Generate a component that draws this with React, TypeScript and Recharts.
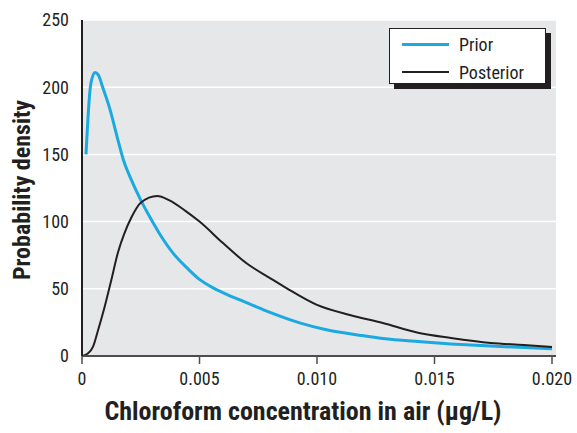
import React from "react"
import { LineChart, Line, XAxis, YAxis, CartesianGrid, Label } from "recharts"

// Prior density
const priorX = [
  0.00017, 0.00037, 0.00055, 0.0007, 0.00088, 0.0012, 0.00148, 0.00176, 0.0021,
  0.0025, 0.0029, 0.0033, 0.0039, 0.0045, 0.005, 0.0056, 0.0062, 0.0071, 0.008,
  0.0093, 0.0104, 0.0118, 0.0128, 0.0143, 0.0157, 0.0174, 0.02,
]
const priorY = [
  150, 202, 211, 209, 200, 183, 164, 146, 131, 116, 103, 91, 76, 65, 57, 50.5,
  45.5, 39, 32.5, 24.5, 19.5, 15.5, 13, 10.7, 9, 7.4, 5.4,
]

// Posterior density
const posteriorX = [
  0, 0.00026, 0.00047, 0.00068, 0.00097, 0.00124, 0.00153, 0.0018, 0.0021, 0.0025,
  0.0032, 0.0037, 0.0044, 0.005, 0.006, 0.007, 0.008, 0.0087, 0.01, 0.0114,
  0.0128, 0.0143, 0.0157, 0.0174, 0.0188, 0.02,
]
const posteriorY = [
  0, 2, 7, 19, 37, 56, 77, 91, 103, 114, 119, 116, 108, 100, 84, 69, 58, 50.5, 38,
  30.5, 24.5, 17.3, 13.4, 9.7, 8.2, 6.7,
]

const xTicks = [0, 0.005, 0.01, 0.015, 0.02]
const yTicks = [0, 50, 100, 150, 200, 250]

const font = "'Liberation Sans Narrow', 'Roboto Condensed', 'DejaVu Sans Condensed', sans-serif"
const ink = "#231f20"
const blue = "#1ba9e1"

const priorData = priorX.map((x, i) => ({ x, y: priorY[i] }))
const posteriorData = posteriorX.map((x, i) => ({ x, y: posteriorY[i] }))

const legendItems = [
  { name: "Prior", color: blue, width: 3 },
  { name: "Posterior", color: ink, width: 2 },
]

// legend drawn over the plot, box with a hard drop shadow
function LegendBox() {
  return (
    <div
      style={{
        position: "absolute",
        left: 389,
        top: 28,
        background: "#fff",
        border: `1px solid ${ink}`,
        boxShadow: `5px 5px 0 ${ink}`,
        width: 157,
        height: 56,
        boxSizing: "border-box",
        paddingTop: 1,
        fontFamily: font,
        fontSize: 18,
        color: ink,
      }}
    >
      {legendItems.map((it) => (
        <div key={it.name} style={{ display: "flex", alignItems: "center", height: 28 }}>
          <span
            style={{
              display: "inline-block",
              width: 47,
              marginLeft: 12,
              marginRight: 10,
              borderTop: `${it.width}px solid ${it.color}`,
            }}
          />
          <span>{it.name}</span>
        </div>
      ))}
    </div>
  )
}

export default function App() {
  return (
    <div style={{ position: "absolute", left: 0, top: 0, width: 577, height: 433 }}>
      <LineChart width={577} height={433} margin={{ top: 20, right: 21, bottom: 0, left: 0 }}>
        <CartesianGrid fill="#e6e7e8" stroke="#ffffff" strokeWidth={1.5} vertical={false} />
        <XAxis
          type="number"
          dataKey="x"
          domain={[0, 0.02017]}
          ticks={xTicks}
          allowDataOverflow
          height={77}
          tickSize={8}
          tickMargin={8}
          tickFormatter={(v: number) => (v === 0 ? "0" : v.toFixed(3))}
          tick={{ fontSize: 18, fill: ink, fontFamily: font }}
          axisLine={{ stroke: "#4d4d4f", strokeWidth: 2 }}
          tickLine={{ stroke: "#4d4d4f", strokeWidth: 1.5 }}
        >
          <Label
            content={() => (
              <text
                x={303}
                y={420}
                textAnchor="middle"
                fontFamily={font}
                fontWeight="bold"
                fontSize={26}
                fill={ink}
              >
                Chloroform concentration in air (μg/L)
              </text>
            )}
          />
        </XAxis>
        <YAxis
          type="number"
          domain={[0, 250]}
          ticks={yTicks}
          width={82}
          tickLine={false}
          tickMargin={7}
          tick={{ fontSize: 18, fill: ink, fontFamily: font }}
          axisLine={{ stroke: ink, strokeWidth: 2 }}
        >
          <Label
            content={() => (
              <text
                x={30}
                y={190}
                transform="rotate(-90 30 190)"
                textAnchor="middle"
                fontFamily={font}
                fontWeight="bold"
                fontSize={24}
                fill={ink}
              >
                Probability density
              </text>
            )}
          />
        </YAxis>
        <Line
          data={priorData}
          dataKey="y"
          name="Prior"
          type="monotone"
          stroke={blue}
          strokeWidth={3}
          dot={false}
          isAnimationActive={false}
        />
        <Line
          data={posteriorData}
          dataKey="y"
          name="Posterior"
          type="monotone"
          stroke={ink}
          strokeWidth={2}
          dot={false}
          isAnimationActive={false}
        />
      </LineChart>
      <LegendBox />
    </div>
  )
}
